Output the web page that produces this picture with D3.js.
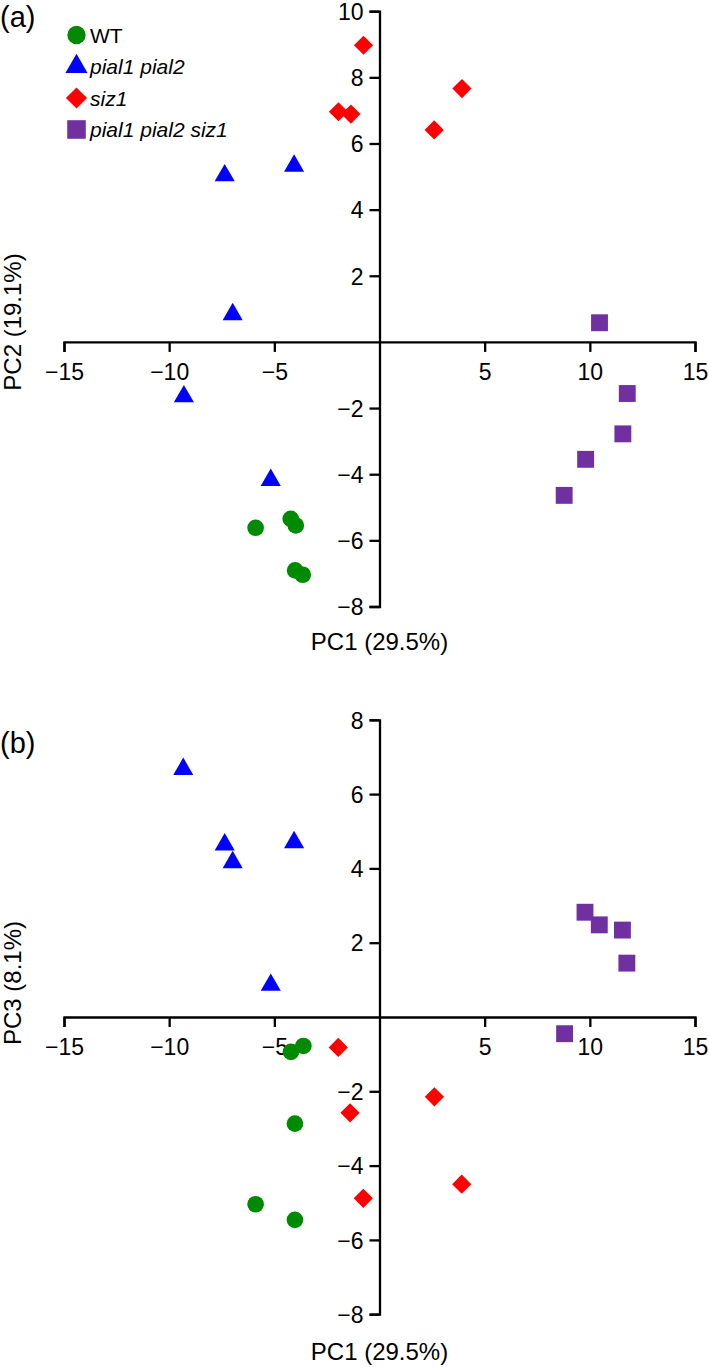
<!DOCTYPE html>
<html>
<head>
<meta charset="utf-8">
<script src="https://cdn.jsdelivr.net/npm/d3@7"></script>
<style>
  html, body { margin: 0; padding: 0; background: #fff; }
  svg { display: block; font-family: "Liberation Sans", Arial, sans-serif; }
</style>
</head>
<body>
<svg id="chart" width="709" height="1367"></svg>
<script>
// ---------- data ----------
const groups = ["WT", "pial1 pial2", "siz1", "pial1 pial2 siz1"];
const groupColors = ["#008a00", "#0000ff", "#ff0000", "#7030a0"];
const groupShapes = ["circle", "triangle", "diamond", "square"];
const groupItalic = [false, true, true, true];

// PC1 values per group (panel a)
const pc1WT   = [-5.89, -4.22, -3.98, -4.01, -3.65];
const pc1Pial = [-7.36, -4.06, -6.98, -9.30, -5.17];
const pc1Siz  = [-0.76, 3.92, 2.60, -1.95, -1.36];
const pc1Trip = [10.46, 11.78, 11.57, 9.80, 8.78];

// PC2 values
const pc2WT   = [-5.62, -5.35, -5.55, -6.91, -7.04];
const pc2Pial = [5.03, 5.32, 0.83, -1.65, -4.18];
const pc2Siz  = [8.97, 7.66, 6.41, 6.96, 6.89];
const pc2Trip = [0.58, -1.56, -2.78, -3.55, -4.64];

// PC1 values as positioned in panel (b)
const pc1bWT   = [-4.21, -3.62, -4.02, -5.89, -4.02];
const pc1bPial = [-9.33, -7.36, -6.98, -4.06, -5.17];
const pc1bSiz  = [-1.96, -1.40, -0.77, 2.61, 3.91];
const pc1bTrip = [9.77, 10.45, 11.55, 11.76, 8.80];

// PC3 values
const pc3WT   = [-0.94, -0.78, -2.87, -5.04, -5.46];
const pc3Pial = [6.67, 4.64, 4.16, 4.70, 0.86];
const pc3Siz  = [-0.82, -2.58, -4.88, -2.15, -4.50];
const pc3Trip = [2.82, 2.48, 2.34, 1.45, -0.45];

const xTicks = [-15, -10, -5, 5, 10, 15];
const yTicksA = [-8, -6, -4, -2, 2, 4, 6, 8, 10];
const yTicksB = [-8, -6, -4, -2, 2, 4, 6, 8];

const xLabel = "PC1 (29.5%)";
const yLabelA = "PC2 (19.1%)";
const yLabelB = "PC3 (8.1%)";

// ---------- drawing ----------
const svg = d3.select("#chart");
const FONT = 23;

function diamondPath(half) {
  return `M0,${-half}L${half},0L0,${half}L${-half},0Z`;
}
function markerPath(shape, scale = 1) {
  if (shape === "diamond") return diamondPath(9.6 * scale);
  if (shape === "circle") return d3.symbol(d3.symbolCircle, 218 * scale * scale)();
  if (shape === "triangle") return d3.symbol(d3.symbolTriangle, 175 * scale * scale)();
  return d3.symbol(d3.symbolSquare, 285 * scale * scale)();
}

const xScale = d3.scaleLinear().domain([-15, 15]).range([64, 695]);

function drawPanel(cfg) {
  const y = d3.scaleLinear().domain(cfg.yDomain).range(cfg.yRange);
  const g = svg.append("g");

  const yAxis = d3.axisLeft(y).tickValues(cfg.yTicks).tickSize(10).tickSizeOuter(10).tickPadding(6)
    .tickFormat(d3.format("d"));
  const gy = g.append("g").attr("transform", `translate(${xScale(0)},0)`).call(yAxis);

  const xAxis = d3.axisBottom(xScale).tickValues(xTicks).tickSize(10).tickSizeOuter(10).tickPadding(12)
    .tickFormat(d3.format("d"));
  const gx = g.append("g").attr("transform", `translate(0,${y(0)})`).call(xAxis);

  [gx, gy].forEach(a => {
    a.selectAll("path.domain").attr("stroke", "#000").attr("stroke-width", 2.3);
    a.selectAll(".tick line").attr("stroke", "#000").attr("stroke-width", 2.3);
    a.selectAll(".tick text").attr("font-size", FONT).attr("fill", "#000")
      .attr("font-family", "Liberation Sans, Arial, sans-serif");
  });
  gy.selectAll(".tick text").attr("dy", "0.36em");

  g.append("text").attr("x", xScale(0)).attr("y", cfg.xTitleY)
    .attr("text-anchor", "middle").attr("font-size", FONT + 1).text(xLabel);
  g.append("text")
    .attr("transform", `translate(${cfg.yTitleX},${cfg.yTitleY}) rotate(-90)`)
    .attr("text-anchor", "middle").attr("font-size", FONT + 1).text(cfg.yLabel);

  g.append("text").attr("x", 0).attr("y", cfg.tagY).attr("font-size", 29).text(cfg.tag);

  cfg.series.forEach((s, i) => {
    g.append("g").selectAll("path")
      .data(s.x.map((v, k) => [v, s.y[k]]))
      .join("path")
      .attr("d", markerPath(groupShapes[i]))
      .attr("transform", d => `translate(${xScale(d[0])},${y(d[1])})`)
      .attr("fill", groupColors[i]);
  });
  return g;
}

drawPanel({
  yDomain: [-8, 10], yRange: [606.5, 11.2], yTicks: yTicksA,
  xTitleY: 650, yTitleX: 21, yTitleY: 322, yLabel: yLabelA,
  tag: "(a)", tagY: 27,
  series: [
    { x: pc1WT, y: pc2WT }, { x: pc1Pial, y: pc2Pial },
    { x: pc1Siz, y: pc2Siz }, { x: pc1Trip, y: pc2Trip }
  ]
});

drawPanel({
  yDomain: [-8, 8], yRange: [1314.2, 719.8], yTicks: yTicksB,
  xTitleY: 1360, yTitleX: 21, yTitleY: 983, yLabel: yLabelB,
  tag: "(b)", tagY: 753,
  series: [
    { x: pc1bWT, y: pc3WT }, { x: pc1bPial, y: pc3Pial },
    { x: pc1bSiz, y: pc3Siz }, { x: pc1bTrip, y: pc3Trip }
  ]
});

const legend = svg.append("g");
groups.forEach((name, i) => {
  const cy = 35 + i * 31.5;
  legend.append("path").attr("d", markerPath(groupShapes[i], 1.1))
    .attr("transform", `translate(76.5,${cy})`).attr("fill", groupColors[i]);
  legend.append("text").attr("x", 90).attr("y", cy + 7.5)
    .attr("font-size", 21).attr("font-style", groupItalic[i] ? "italic" : "normal")
    .text(name);
});
</script>
</body>
</html>
